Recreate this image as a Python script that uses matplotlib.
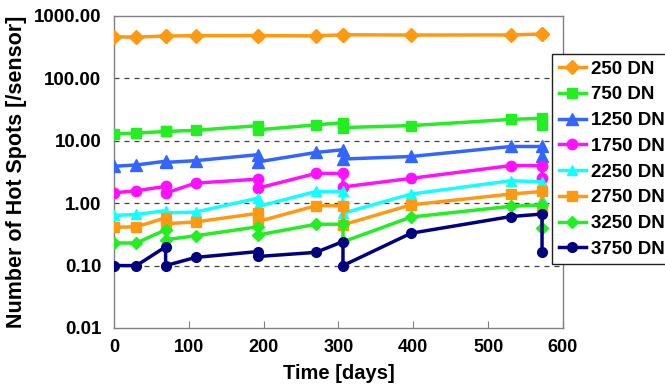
import matplotlib
matplotlib.use("Agg")
import matplotlib.pyplot as plt
from matplotlib.ticker import FixedLocator, FormatStrFormatter

plt.rcParams['font.family'] = ['Liberation Sans', 'DejaVu Sans']
plt.rcParams['font.weight'] = 'bold'

# time points (repeated days = two measurements on the same day)
days = [0, 30, 69, 69, 109, 193, 193, 270, 306, 306, 397, 530, 572, 572]

labels = ["250 DN", "750 DN", "1250 DN", "1750 DN", "2250 DN", "2750 DN", "3250 DN", "3750 DN"]

dn250  = [465, 458, 478, 478, 483, 485, 485, 480, 500, 500, 495, 497, 515, 515]
dn750  = [12.9, 13.3, 14.1, 14.1, 14.7, 17.5, 15.0, 18.0, 19.5, 16.3, 17.5, 22.0, 23.0, 18.0]
dn1250 = [3.9, 4.1, 4.7, 4.5, 4.8, 6.0, 4.6, 6.5, 7.2, 5.1, 5.6, 8.1, 8.1, 5.6]
dn1750 = [1.47, 1.58, 1.86, 1.45, 2.1, 2.43, 1.75, 3.0, 3.0, 1.82, 2.5, 4.0, 4.0, 2.5]
dn2250 = [0.635, 0.66, 0.76, 0.70, 0.72, 1.21, 0.89, 1.54, 1.54, 0.69, 1.4, 2.29, 2.2, 1.15]
dn2750 = [0.41, 0.42, 0.58, 0.47, 0.50, 0.69, 0.51, 0.91, 0.91, 0.45, 0.94, 1.4, 1.54, 0.78]
dn3250 = [0.23, 0.23, 0.375, 0.26, 0.30, 0.42, 0.31, 0.46, 0.46, 0.24, 0.6, 0.89, 0.94, 0.40]
dn3750 = [0.10, 0.10, 0.20, 0.10, 0.135, 0.168, 0.14, 0.163, 0.243, 0.10, 0.33, 0.61, 0.67, 0.168]

series = [dn250, dn750, dn1250, dn1750, dn2250, dn2750, dn3250, dn3750]
colors = ["#FF9912", "#22EE22", "#3366FF", "#FF11FF", "#11FFFF", "#FF9912", "#22EE22", "#000080"]
markers = ["D", "s", "^", "o", "^", "s", "D", "o"]
msizes = [7, 7.5, 8, 7.5, 7.5, 7.5, 6, 7]

xticks = [0, 100, 200, 300, 400, 500, 600]
yticks = [0.01, 0.1, 1, 10, 100, 1000]

fig = plt.figure(figsize=(6.65, 3.87), dpi=100)
ax = fig.add_axes([0.1714, 0.1525, 0.6752, 0.8062])

for vals, lab, c, m, ms in zip(series, labels, colors, markers, msizes):
    ax.plot(days, vals, color=c, marker=m, markersize=ms, linewidth=2.5,
            label=lab, markeredgecolor=c, zorder=3)

ax.set_yscale('log')
ax.set_ylim(0.01, 1000)
ax.set_xlim(0, 600)
ax.yaxis.set_major_locator(FixedLocator(yticks))
ax.yaxis.set_minor_locator(FixedLocator([]))
ax.yaxis.set_major_formatter(FormatStrFormatter('%.2f'))
ax.xaxis.set_major_locator(FixedLocator(xticks))

for v in [0.1, 1, 10, 100]:
    ax.axhline(v, color='#404040', linestyle=(0, (4, 4)), linewidth=0.9, zorder=1)

for s in ax.spines.values():
    s.set_color('#808080')
    s.set_linewidth(1.0)

ax.tick_params(axis='x', direction='in', length=5, color='#808080', labelsize=13, pad=8)
ax.tick_params(axis='y', length=0, labelsize=13.5, pad=9)
for t in ax.get_xticklabels() + ax.get_yticklabels():
    t.set_fontweight('bold')

ax.set_xlabel("Time [days]", fontsize=14.5, fontweight='bold', labelpad=6)
ax.set_ylabel("Number of Hot Spots [/sensor]", fontsize=15.5, fontweight='bold', labelpad=5)

leg = fig.legend(loc='upper left', bbox_to_anchor=(0.830, 0.8605), borderaxespad=0,
                 prop={'size': 13.5, 'weight': 'bold'}, handlelength=1.45, handletextpad=0.3,
                 labelspacing=0.46, borderpad=0.35, fancybox=False, framealpha=1,
                 edgecolor='#202020')
leg.get_frame().set_linewidth(1.0)

fig.savefig("out.png", dpi=100)
